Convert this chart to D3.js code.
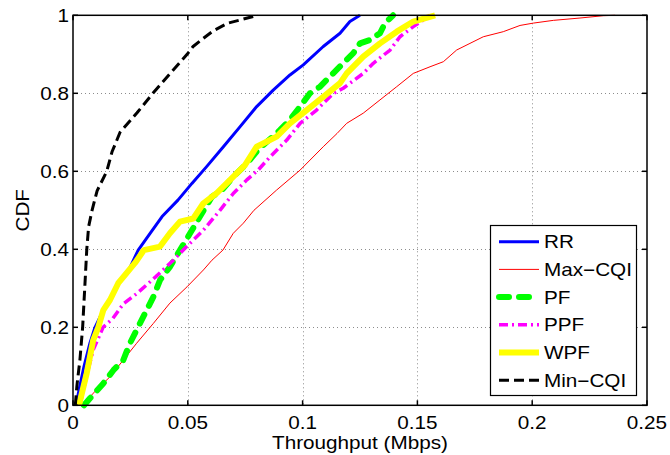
<!DOCTYPE html>
<html>
<head>
<meta charset="utf-8">
<script src="https://cdn.jsdelivr.net/npm/d3@7"></script>
<style>
  body { margin: 0; background: #fff; }
  text { font-family: "Liberation Sans", Arial, sans-serif; font-size: 18px; fill: #000; }
</style>
</head>
<body>
<svg id="chart" width="670" height="455"></svg>
<script>
// CDF points: [throughput (Mbps), CDF]
var rr = [[0.0013,0],[0.003,0.05],[0.0048,0.1],[0.0074,0.16],[0.0096,0.2],[0.0132,0.244],[0.0161,0.27],
  [0.0197,0.313],[0.024,0.343],[0.0284,0.398],[0.0335,0.44],[0.0388,0.484],[0.0457,0.526],[0.0518,0.569],
  [0.0582,0.612],[0.0655,0.663],[0.0727,0.714],[0.08,0.766],[0.0872,0.808],[0.0945,0.847],[0.1003,0.873],
  [0.109,0.92],[0.1163,0.954],[0.1206,0.984],[0.125,1]];

var maxCqi = [[0.0039,0],[0.0103,0.04],[0.0161,0.073],[0.0219,0.116],[0.0277,0.159],[0.035,0.21],[0.0422,0.262],
  [0.0497,0.304],[0.0568,0.347],[0.0605,0.372],[0.0653,0.398],[0.0698,0.441],[0.0742,0.467],[0.0788,0.5],
  [0.0887,0.552],[0.0989,0.603],[0.109,0.663],[0.115,0.697],[0.1192,0.723],[0.1264,0.749],[0.1337,0.783],
  [0.141,0.817],[0.1482,0.851],[0.1555,0.868],[0.1613,0.881],[0.1671,0.911],[0.1729,0.928],[0.1787,0.945],
  [0.1874,0.958],[0.1947,0.974],[0.2005,0.98],[0.2092,0.987],[0.2208,0.993],[0.231,0.999],[0.2361,1]];

var pf = [[0.0048,0],[0.0074,0.018],[0.0132,0.056],[0.0176,0.09],[0.0219,0.116],[0.0248,0.159],[0.0277,0.193],
  [0.0314,0.236],[0.035,0.278],[0.0379,0.321],[0.0422,0.355],[0.0466,0.398],[0.051,0.441],[0.0553,0.484],
  [0.0605,0.535],[0.0649,0.552],[0.0698,0.586],[0.0757,0.62],[0.0806,0.655],[0.0902,0.706],[0.0945,0.732],
  [0.0989,0.766],[0.1032,0.8],[0.1076,0.817],[0.1119,0.843],[0.1177,0.877],[0.1221,0.903],[0.125,0.928],
  [0.1294,0.937],[0.1337,0.954],[0.1359,0.98],[0.1394,1]];

var ppf = [[0.003,0],[0.0061,0.08],[0.0088,0.142],[0.0131,0.2],[0.0174,0.223],[0.0219,0.26],[0.0279,0.287],
  [0.0361,0.33],[0.0437,0.372],[0.0495,0.407],[0.0568,0.449],[0.064,0.5],[0.0698,0.543],[0.0757,0.578],
  [0.0806,0.603],[0.0858,0.637],[0.0931,0.68],[0.0989,0.723],[0.1061,0.757],[0.1134,0.8],[0.1177,0.813],
  [0.1264,0.851],[0.1308,0.877],[0.1381,0.911],[0.1424,0.945],[0.1482,0.971],[0.1526,0.988],[0.1555,1]];

var wpf = [[0.0026,0],[0.006,0.083],[0.0088,0.167],[0.011,0.2],[0.0132,0.244],[0.0161,0.27],[0.0197,0.313],
  [0.0226,0.334],[0.027,0.365],[0.0309,0.398],[0.0379,0.407],[0.0422,0.441],[0.0466,0.471],[0.0524,0.479],
  [0.0568,0.518],[0.0626,0.544],[0.0669,0.569],[0.0749,0.616],[0.08,0.663],[0.0887,0.689],[0.0945,0.723],
  [0.1018,0.757],[0.109,0.791],[0.1163,0.826],[0.1192,0.851],[0.1264,0.894],[0.1337,0.928],[0.141,0.958],
  [0.1482,0.984],[0.1577,1]];

var minCqi = [[0.001,0],[0.0017,0.05],[0.003,0.116],[0.0042,0.2],[0.0052,0.31],[0.006,0.4],[0.0068,0.458],
  [0.0083,0.5],[0.0105,0.55],[0.0147,0.6],[0.017,0.65],[0.0205,0.7],[0.0279,0.75],[0.0348,0.8],[0.0422,0.85],
  [0.0497,0.9],[0.0523,0.92],[0.0566,0.94],[0.061,0.96],[0.0675,0.98],[0.0806,1]];

var seriesNames = ["RR", "Max\u2212CQI", "PF", "PPF", "WPF", "Min\u2212CQI"];
var xTicks = [0, 0.05, 0.1, 0.15, 0.2, 0.25];
var yTicks = [0, 0.2, 0.4, 0.6, 0.8, 1];

function drawChart() {
  var series = [
    {name: seriesNames[0], data: rr,     color: "#0000ff", width: 3,   dash: null},
    {name: seriesNames[1], data: maxCqi, color: "#ff0000", width: 1,   dash: null},
    {name: seriesNames[2], data: pf,     color: "#00ff00", width: 6,   dash: "10,10", cap: "round"},
    {name: seriesNames[3], data: ppf,    color: "#ff00ff", width: 3.5, dash: "9,4,2,4"},
    {name: seriesNames[4], data: wpf,    color: "#ffff00", width: 6,   dash: null},
    {name: seriesNames[5], data: minCqi, color: "#000000", width: 3,   dash: "10,5"}
  ];

  var svg = d3.select("#chart");
  var pl = 73, pr = 647, pt = 15.3, pb = 405.3;
  var sx = 1.15; // text is a bit wider than Arial in the picture

  var x = d3.scaleLinear().domain([0, 0.25]).range([pl, pr]);
  var y = d3.scaleLinear().domain([0, 1]).range([pb, pt]);

  // grid
  var grid = svg.append("g").attr("stroke", "#8c8c8c").attr("stroke-width", 1).attr("stroke-dasharray", "1,3");
  grid.selectAll("line.gx").data(xTicks.slice(1, -1)).enter().append("line")
    .attr("x1", function(d) { return Math.round(x(d)) + 0.5; })
    .attr("x2", function(d) { return Math.round(x(d)) + 0.5; })
    .attr("y1", pt).attr("y2", pb);
  grid.selectAll("line.gy").data(yTicks.slice(1, -1)).enter().append("line")
    .attr("y1", function(d) { return Math.round(y(d)) + 0.5; })
    .attr("y2", function(d) { return Math.round(y(d)) + 0.5; })
    .attr("x1", pl).attr("x2", pr);

  // curves
  var line = d3.line()
    .x(function(d) { return x(d[0]); })
    .y(function(d) { return y(d[1]); });

  svg.append("g").selectAll("path").data(series).enter().append("path")
    .attr("d", function(d) { return line(d.data); })
    .attr("fill", "none")
    .attr("stroke", function(d) { return d.color; })
    .attr("stroke-width", function(d) { return d.width; })
    .attr("stroke-dasharray", function(d) { return d.dash; })
    .attr("stroke-linecap", function(d) { return d.cap || "butt"; })
    .attr("stroke-linejoin", "round");

  // box and inward ticks
  var ax = svg.append("g").attr("stroke", "#000").attr("stroke-width", 1.5).attr("fill", "none");
  ax.append("rect").attr("x", pl).attr("y", pt).attr("width", pr - pl).attr("height", pb - pt);
  var tl = 5;
  xTicks.forEach(function(t) {
    ax.append("line").attr("x1", x(t)).attr("x2", x(t)).attr("y1", pb).attr("y2", pb - tl);
    ax.append("line").attr("x1", x(t)).attr("x2", x(t)).attr("y1", pt).attr("y2", pt + tl);
  });
  yTicks.forEach(function(t) {
    ax.append("line").attr("y1", y(t)).attr("y2", y(t)).attr("x1", pl).attr("x2", pl + tl);
    ax.append("line").attr("y1", y(t)).attr("y2", y(t)).attr("x1", pr).attr("x2", pr - tl);
  });

  // tick labels
  svg.append("g").selectAll("text").data(xTicks).enter().append("text")
    .attr("transform", function(d) { return "translate(" + x(d) + "," + (pb + 24) + ") scale(" + sx + ",1)"; })
    .attr("text-anchor", "middle")
    .text(function(d) { return d; });
  svg.append("g").selectAll("text").data(yTicks).enter().append("text")
    .attr("transform", function(d) { return "translate(69," + y(d) + ") scale(" + sx + ",1)"; })
    .attr("text-anchor", "end").attr("dy", "0.36em")
    .text(function(d) { return d; });

  // axis labels
  svg.append("text")
    .attr("transform", "translate(" + ((pl + pr) / 2) + ",449) scale(" + sx + ",1)")
    .attr("text-anchor", "middle").text("Throughput (Mbps)");
  svg.append("text")
    .attr("transform", "translate(29," + ((pt + pb) / 2) + ") rotate(-90) scale(" + sx + ",1)")
    .attr("text-anchor", "middle").text("CDF");

  // legend
  var lg = svg.append("g");
  lg.append("rect").attr("x", 490.5).attr("y", 225.5).attr("width", 146).attr("height", 170)
    .attr("fill", "#fff").attr("stroke", "#000").attr("stroke-width", 1.2);
  var item = lg.selectAll("g.item").data(series).enter().append("g")
    .attr("transform", function(d, i) { return "translate(0," + (241.7 + i * 27.7) + ")"; });
  item.append("line").attr("x1", 499).attr("x2", 539).attr("y1", 0).attr("y2", 0)
    .attr("stroke", function(d) { return d.color; })
    .attr("stroke-width", function(d) { return d.width; })
    .attr("stroke-dasharray", function(d) { return d.dash; })
    .attr("stroke-linecap", function(d) { return d.cap || "butt"; });
  item.append("text")
    .attr("transform", "translate(544,0) scale(" + sx + ",1)")
    .attr("dy", "0.36em")
    .text(function(d) { return d.name; });
}

drawChart();
</script>
</body>
</html>
